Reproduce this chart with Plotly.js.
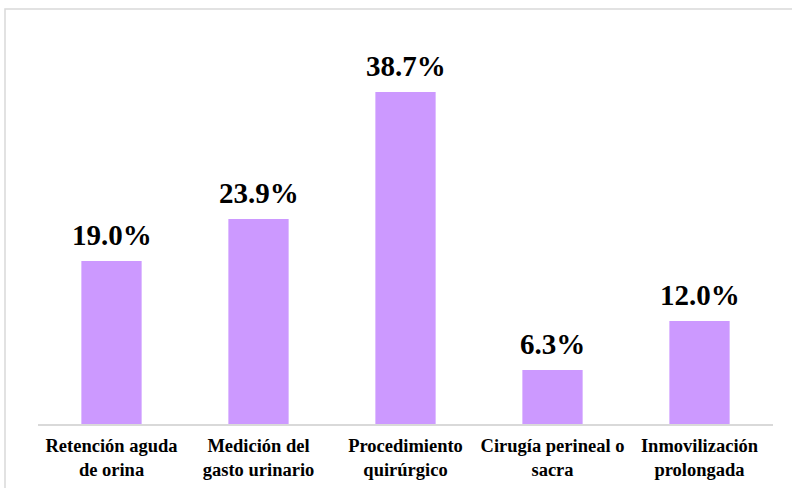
<!DOCTYPE html>
<html>
<head>
<meta charset="utf-8">
<script src="https://cdn.plot.ly/plotly-3.0.1.min.js"></script>
<style>
  html, body { margin: 0; padding: 0; background: #ffffff; }
  #chart { width: 792px; height: 488px; }
</style>
</head>
<body>
<div id="chart"></div>
<script>
// Categories (two-line labels) and their percentages
const categories = [
  "Retención aguda<br>de orina",
  "Medición del<br>gasto urinario",
  "Procedimiento<br>quirúrgico",
  "Cirugía perineal o<br>sacra",
  "Inmovilización<br>prolongada"
];
const percentages = [19.0, 23.9, 38.7, 6.3, 12.0];

const serif = "Liberation Serif, Times New Roman, serif";

const trace = {
  type: "bar",
  x: categories,
  y: percentages,
  marker: { color: "#CC99FF", line: { width: 0 } },
  width: 0.41,
  hoverinfo: "skip"
};

// Value labels sit a little above each bar
const valueLabels = categories.map((c, i) => ({
  x: c,
  y: percentages[i],
  xref: "x",
  yref: "y",
  text: percentages[i].toFixed(1) + "%",
  showarrow: false,
  yanchor: "bottom",
  yshift: 8,
  font: { family: serif, size: 29, color: "#000000", weight: "bold" }
}));

const layout = {
  width: 792,
  height: 488,
  margin: { l: 38, r: 19, t: 38, b: 64 },
  paper_bgcolor: "#ffffff",
  plot_bgcolor: "#ffffff",
  showlegend: false,
  xaxis: {
    type: "category",
    showgrid: false,
    zeroline: false,
    showline: true,
    linecolor: "#d9d9d9",
    linewidth: 1.5,
    ticks: "",
    ticklabelstandoff: 4,
    tickfont: { family: serif, size: 18.5, color: "#000000", weight: "bold" }
  },
  yaxis: {
    range: [0, 45],
    visible: false,
    showgrid: false,
    zeroline: false
  },
  annotations: valueLabels,
  shapes: [{
    type: "rect",
    xref: "paper", yref: "paper",
    x0: -0.0449, x1: 1.03,
    y0: -0.2, y1: 1.0751,
    line: { color: "#d9d9d9", width: 1.5 },
    fillcolor: "rgba(0,0,0,0)",
    layer: "below"
  }]
};

Plotly.newPlot("chart", [trace], layout, { displayModeBar: false, staticPlot: true });
</script>
</body>
</html>
